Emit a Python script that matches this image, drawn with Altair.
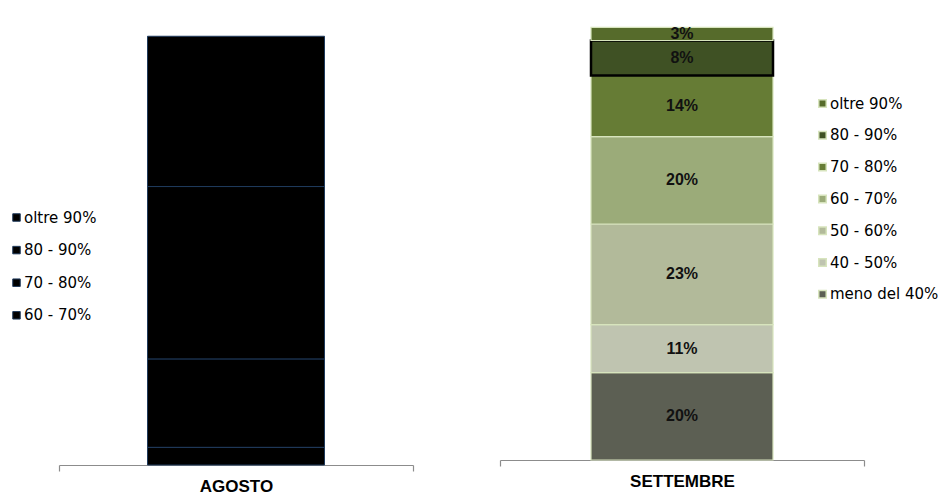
import altair as alt
import pandas as pd

# ---- data ----
mese_agosto = "AGOSTO"
fasce_agosto = ["60 - 70%", "70 - 80%", "80 - 90%", "oltre 90%"]
valori_agosto = [4, 20, 39, 34]
colori_agosto = ["#000000", "#000000", "#000000", "#000000"]

mese_settembre = "SETTEMBRE"
fasce_settembre = ["meno del 40%", "40 - 50%", "50 - 60%", "60 - 70%",
                   "70 - 80%", "80 - 90%", "oltre 90%"]
valori_settembre = [20, 11, 23, 20, 14, 8, 3]
colori_settembre = ["#5c5f53", "#bfc4b0", "#b2ba9a", "#9bab79",
                    "#667c35", "#3f5124", "#566b2b"]

df_a = pd.DataFrame({"mese": mese_agosto, "fascia": fasce_agosto,
                     "valore": valori_agosto,
                     "ordine": list(range(len(fasce_agosto)))})
df_s = pd.DataFrame({"mese": mese_settembre, "fascia": fasce_settembre,
                     "valore": valori_settembre,
                     "ordine": list(range(len(fasce_settembre)))})

axis_x = dict(title=None, labelAngle=0, tickBand="extent",
              domainColor="#8c8c8c", tickColor="#8c8c8c", tickSize=6,
              domainWidth=1.2, tickWidth=1.2,
              labelFont="Liberation Sans", labelFontWeight="bold",
              labelFontSize=17, labelColor="#000000", labelPadding=7)

legend_common = dict(title=None, orient="none", symbolType="square",
                     symbolSize=56, labelFont="DejaVu Sans", labelFontSize=15,
                     labelColor="#000000", labelOffset=0, padding=0)

left = alt.Chart(df_a).mark_bar(
    width=alt.RelativeBandSize(0.5), stroke="#1f3a5c", strokeWidth=1
).encode(
    x=alt.X("mese:N", scale=alt.Scale(paddingInner=0, paddingOuter=0),
            axis=alt.Axis(**axis_x)),
    y=alt.Y("valore:Q", stack="zero", scale=alt.Scale(domain=[0, 100]), axis=None),
    color=alt.Color("fascia:N",
                    scale=alt.Scale(domain=fasce_agosto[::-1], range=colori_agosto[::-1]),
                    legend=alt.Legend(legendX=-50, legendY=187, rowPadding=16.6,
                                      symbolStrokeColor="#1f3a5c",
                                      symbolStrokeWidth=1, **legend_common)),
    order=alt.Order("ordine:Q", sort="ascending"),
).properties(width=354, height=442)

is_8090 = "datum.fascia == '80 - 90%'"

bars_s = alt.Chart(df_s).mark_bar(width=alt.RelativeBandSize(0.5)).encode(
    x=alt.X("mese:N", scale=alt.Scale(paddingInner=0, paddingOuter=0),
            axis=alt.Axis(**axis_x)),
    y=alt.Y("valore:Q", stack="zero", scale=alt.Scale(domain=[0, 99]), axis=None),
    color=alt.Color("fascia:N",
                    scale=alt.Scale(domain=fasce_settembre[::-1],
                                    range=colori_settembre[::-1]),
                    legend=alt.Legend(legendX=315, legendY=73, rowPadding=15.8,
                                      **legend_common)),
    stroke=alt.condition(is_8090, alt.value("#000000"), alt.value("#d7e4bd")),
    strokeWidth=alt.condition(is_8090, alt.value(2.5), alt.value(1.2)),
    order=alt.Order("ordine:Q", sort="ascending"),
)

text_s = alt.Chart(df_s).transform_stack(
    stack="valore", groupby=["mese"], as_=["y0", "y1"],
    sort=[alt.SortField("ordine", order="ascending")]
).transform_calculate(
    mid="(datum.y0 + datum.y1) / 2", label="datum.valore + '%'"
).mark_text(font="Liberation Sans", fontWeight="bold", fontSize=16,
            color="#111111").encode(
    x=alt.X("mese:N"),
    y=alt.Y("mid:Q", axis=None),
    text="label:N",
)

right = alt.layer(bars_s, text_s).properties(width=364, height=437)

chart = alt.hconcat(left, right, spacing=85).resolve_scale(
    color="independent", y="independent"
).resolve_legend(color="independent").properties(
    padding={"left": 1, "top": 15, "right": 0, "bottom": 0}
).configure_view(stroke=None)

chart.save("out.html", embed_options={"renderer": "svg", "actions": False})
